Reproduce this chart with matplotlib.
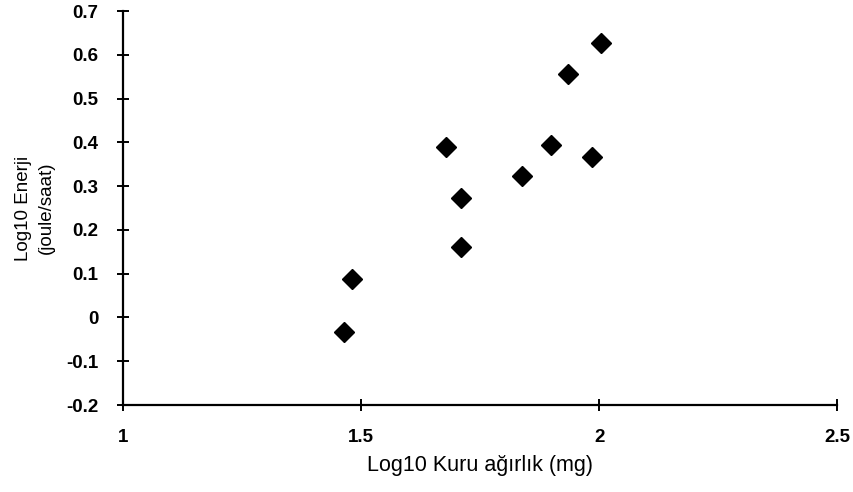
import matplotlib
matplotlib.use("Agg")
import matplotlib.pyplot as plt

plt.rcParams['font.family'] = ['Liberation Sans', 'DejaVu Sans']

x_vals = [1.464, 1.481, 1.678, 1.709, 1.709, 1.837, 1.898, 1.934, 1.985, 2.003]
y_vals = [-0.033, 0.088, 0.390, 0.272, 0.162, 0.323, 0.394, 0.555, 0.366, 0.626]

x_ticks = [1, 1.5, 2, 2.5]
x_tick_labels = ["1", "1.5", "2", "2.5"]
y_ticks = [-0.2, -0.1, 0, 0.1, 0.2, 0.3, 0.4, 0.5, 0.6, 0.7]
y_tick_labels = ["-0.2", "-0.1", "0", "0.1", "0.2", "0.3", "0.4", "0.5", "0.6", "0.7"]

fig = plt.figure(figsize=(8.54, 4.92), dpi=100)
ax = fig.add_axes([0.1446, 0.1768, 0.8355, 0.8008])

ax.plot(x_vals, y_vals, linestyle='none', marker='D', markersize=10.5,
        color='black', markeredgecolor='black')

ax.set_xlim(1, 2.5)
ax.set_ylim(-0.2, 0.7)
ax.set_xticks(x_ticks)
ax.set_xticklabels(x_tick_labels, fontsize=13.5, fontweight='bold')
ax.set_yticks(y_ticks)
ax.set_yticklabels(y_tick_labels, fontsize=13.5, fontweight='bold')

for s in ['top', 'right']:
    ax.spines[s].set_visible(False)
for s in ['left', 'bottom']:
    ax.spines[s].set_linewidth(1.6)
    ax.spines[s].set_color('black')

ax.tick_params(axis='both', direction='inout', length=8, width=1.4, colors='black')
ax.tick_params(axis='x', pad=13)
ax.tick_params(axis='y', pad=14)

ax.set_xlabel("Log10 Kuru ağırlık (mg)", fontsize=15.5, labelpad=7)
ax.set_ylabel("Log10 Enerji\n(joule/saat)", fontsize=13.5, labelpad=8, linespacing=1.45)

fig.savefig("out.png", dpi=100)
